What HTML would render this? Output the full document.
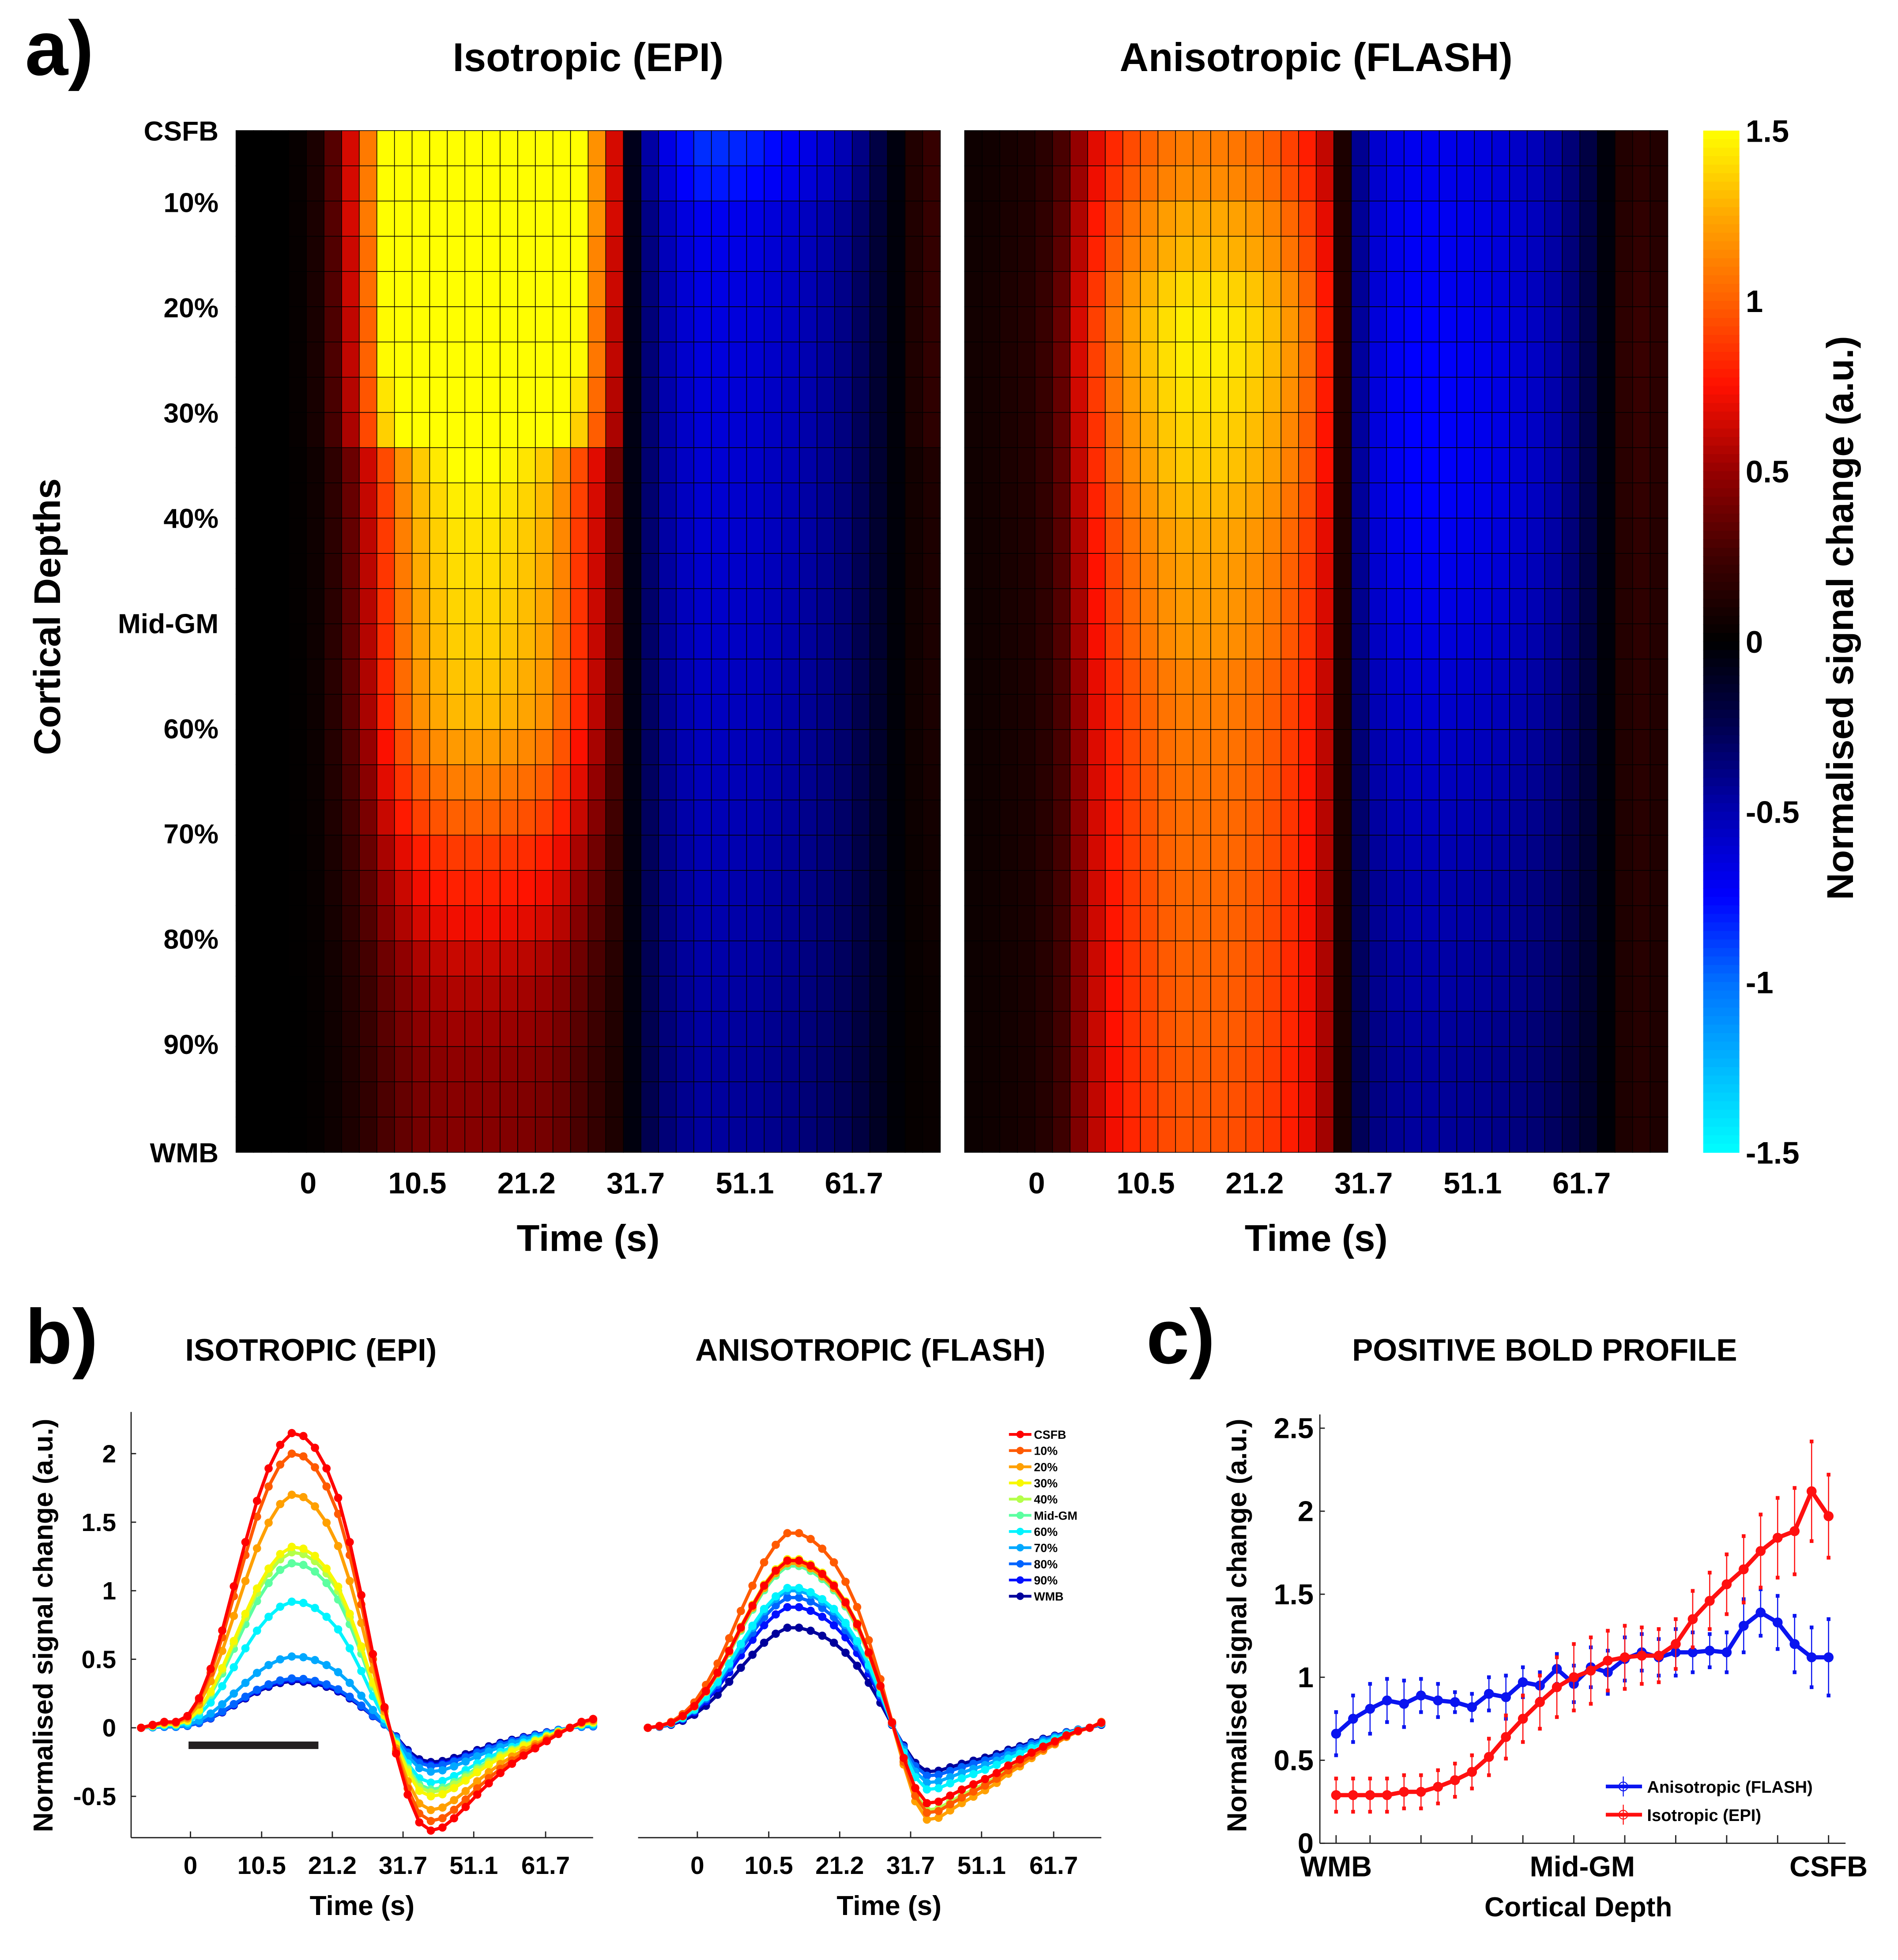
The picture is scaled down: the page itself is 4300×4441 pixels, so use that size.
<!DOCTYPE html>
<html><head><meta charset="utf-8"><style>
html,body{margin:0;padding:0;background:#fff;}
svg{display:block;}
text{font-family:"Liberation Sans",sans-serif;font-weight:bold;fill:#000;}
</style></head><body>
<svg id="fig" xmlns="http://www.w3.org/2000/svg" width="4300" height="4441" viewBox="0 0 1520 1570" preserveAspectRatio="none">
<rect x="0" y="0" width="1520" height="1570" fill="#fff"/>
<text x="20" y="60" font-size="62">a)</text>
<text x="471" y="57" font-size="32" text-anchor="middle">Isotropic (EPI)</text>
<text x="1054" y="57" font-size="32" text-anchor="middle">Anisotropic (FLASH)</text>
<text transform="translate(48,494) rotate(-90)" font-size="30" text-anchor="middle">Cortical Depths</text>
<text transform="translate(1484,495) rotate(-90)" font-size="30" text-anchor="middle">Normalised signal change (a.u.)</text>
<g id="heat"></g>
<text x="20" y="1092" font-size="62">b)</text>
<text x="249" y="1090" font-size="25" text-anchor="middle">ISOTROPIC (EPI)</text>
<text x="697" y="1090" font-size="25" text-anchor="middle">ANISOTROPIC (FLASH)</text>
<text transform="translate(42,1302) rotate(-90)" font-size="22" text-anchor="middle">Normalised signal change (a.u.)</text>
<text x="290" y="1534" font-size="22" text-anchor="middle">Time (s)</text>
<text x="712" y="1534" font-size="22" text-anchor="middle">Time (s)</text>
<rect x="151" y="1395" width="104" height="6" fill="#231f20"/>
<g id="tc"></g>
<text x="918" y="1092" font-size="62">c)</text>
<text x="1237" y="1090" font-size="25" text-anchor="middle">POSITIVE BOLD PROFILE</text>
<text transform="translate(998,1302) rotate(-90)" font-size="22" text-anchor="middle">Normalised signal change (a.u.)</text>
<text x="1264" y="1535" font-size="22" text-anchor="middle">Cortical Depth</text>
<g id="prof"></g>
</svg>
<script>
// ---------- Panel a data ----------
const depthLabels = ["CSFB","10%","20%","30%","40%","Mid-GM","60%","70%","80%","90%","WMB"];
const depthLabelY = [0,0.07,0.173,0.276,0.379,0.482,0.585,0.688,0.791,0.894,1.0];
const timeTickLabels = ["0","10.5","21.2","31.7","51.1","61.7"];
const heatTickIdx = [3.6,9.8,16.0,22.2,28.4,34.6];
const shapeIso = [0,0,0,0.01,0.04,0.12,0.25,0.42,0.62,0.78,0.9,0.96,1,1,1,0.98,0.95,0.9,0.8,0.62,0.45,0.25,-0.1,-0.55,-0.78,-0.92,-1,-1,-0.98,-0.95,-0.9,-0.85,-0.78,-0.7,-0.6,-0.45,-0.25,-0.05,0.05,0.08];
const posAmpIso = [2.6,2.6,2.6,2.5,2.5,2.4,2.4,2.3,2.2,1.5,1.45,1.42,1.4,1.38,1.36,1.33,1.3,1.2,1.1,1.0,0.88,0.8,0.72,0.62,0.56,0.52,0.48,0.46,0.45];
const negAmpIso = [0.85,0.8,0.7,0.68,0.66,0.65,0.64,0.63,0.62,0.61,0.6,0.6,0.59,0.58,0.57,0.56,0.55,0.54,0.53,0.52,0.51,0.5,0.49,0.48,0.47,0.46,0.45,0.45,0.45];
const shapeAni = [0.05,0.06,0.08,0.1,0.15,0.25,0.45,0.62,0.75,0.85,0.92,0.97,1,1,1,0.98,0.95,0.9,0.82,0.72,0.55,0.1,-0.6,-0.85,-0.95,-1,-1,-0.98,-0.95,-0.92,-0.88,-0.82,-0.75,-0.65,-0.5,-0.3,-0.05,0.12,0.15,0.12];
const posAmpAni = [1.1,1.15,1.25,1.3,1.4,1.45,1.45,1.42,1.38,1.35,1.3,1.25,1.22,1.2,1.18,1.12,1.1,1.08,1.06,1.05,1.04,1.03,1.02,1.01,1.0,1.0,0.98,0.97,0.96];
const negAmpAni = [0.7,0.7,0.72,0.72,0.72,0.74,0.75,0.75,0.75,0.75,0.74,0.72,0.7,0.68,0.65,0.62,0.6,0.58,0.56,0.54,0.52,0.5,0.5,0.48,0.48,0.46,0.45,0.45,0.45];
const cbTickLabels = ["1.5","1","0.5","0","-0.5","-1","-1.5"];
const cbTickVals = [1.5,1,0.5,0,-0.5,-1,-1.5];

// ---------- Panel b data ----------
const seriesNames = ["CSFB","10%","20%","30%","40%","Mid-GM","60%","70%","80%","90%","WMB"];
const seriesColors = ["#ff0000","#ff5a00","#ffa000","#f8f800","#b4ff4a","#5cffa0","#00f4ff","#00a8ff","#0064ff","#0010ff","#00009c"];
const shapeL = [0,0.01,0.02,0.02,0.04,0.1,0.2,0.33,0.48,0.63,0.77,0.88,0.96,1.0,0.99,0.95,0.88,0.78,0.63,0.45,0.25,0.07,-0.25,-0.65,-0.92,-1,-0.97,-0.88,-0.77,-0.65,-0.54,-0.44,-0.35,-0.27,-0.2,-0.13,-0.06,0.0,0.02,0.03];
const peaksL = [2.15,2.0,1.7,1.32,1.28,1.2,0.92,0.52,0.36,0.35,0.34];
const troughsL = [-0.75,-0.68,-0.6,-0.5,-0.47,-0.45,-0.4,-0.32,-0.28,-0.27,-0.25];
const shapeR = [0,0.01,0.03,0.07,0.13,0.22,0.33,0.46,0.6,0.73,0.85,0.94,1.0,1.0,0.97,0.92,0.85,0.75,0.62,0.45,0.25,0.03,-0.4,-0.8,-1,-0.98,-0.9,-0.82,-0.75,-0.68,-0.6,-0.5,-0.42,-0.33,-0.25,-0.18,-0.1,-0.04,0.0,0.03];
const peaksR = [1.22,1.42,1.2,1.23,1.2,1.18,1.02,1.0,0.95,0.88,0.73];
const troughsR = [-0.55,-0.62,-0.67,-0.55,-0.6,-0.62,-0.45,-0.4,-0.35,-0.35,-0.32];
const bYTickLabels = ["2","1.5","1","0.5","0","-0.5"];
const bYTickVals = [2,1.5,1,0.5,0,-0.5];
const bTickIdx = [4.26,10.4,16.5,22.6,28.7,34.9];

// ---------- Panel c data ----------
const profXLabels = ["WMB","Mid-GM","CSFB"];
const profXLabelIdx = [0,14.5,29];
const profYTickLabels = ["2.5","2","1.5","1","0.5","0"];
const profYTickVals = [2.5,2,1.5,1,0.5,0];
const isoProfile = [0.29,0.29,0.29,0.29,0.31,0.31,0.34,0.38,0.43,0.52,0.64,0.75,0.85,0.94,1.0,1.04,1.1,1.12,1.13,1.13,1.2,1.35,1.46,1.56,1.65,1.76,1.84,1.88,2.12,1.97];
const isoErr = [0.1,0.1,0.1,0.1,0.1,0.1,0.1,0.1,0.1,0.11,0.13,0.14,0.16,0.18,0.2,0.2,0.18,0.19,0.17,0.16,0.15,0.17,0.17,0.18,0.2,0.22,0.24,0.26,0.3,0.25];
const anisoProfile = [0.66,0.75,0.81,0.86,0.84,0.89,0.86,0.85,0.82,0.9,0.88,0.97,0.95,1.05,0.96,1.06,1.03,1.11,1.15,1.12,1.15,1.15,1.16,1.15,1.31,1.39,1.33,1.2,1.12,1.12];
const anisoErr = [0.13,0.14,0.15,0.13,0.14,0.1,0.1,0.06,0.08,0.1,0.13,0.09,0.08,0.09,0.11,0.12,0.13,0.13,0.11,0.11,0.14,0.12,0.1,0.12,0.16,0.14,0.16,0.17,0.18,0.23];
const profTickIdx = [0,2,5,8,11,14,17,20,23,26,29];

const NS = "http://www.w3.org/2000/svg";
function mk(tag, attrs, parent){ const e=document.createElementNS(NS,tag); for(const k in attrs) e.setAttribute(k,attrs[k]); parent.appendChild(e); return e; }
function lerp(a,b,t){return a+(b-a)*t;}
const cstops = [[-1.5,[0,255,255]],[-1.25,[0,184,255]],[-1.0,[0,112,255]],[-0.75,[0,0,255]],[-0.5,[0,0,176]],[-0.25,[0,0,80]],[0,[0,0,0]],[0.25,[64,0,0]],[0.5,[150,0,0]],[0.75,[255,16,0]],[1.0,[255,96,0]],[1.25,[255,168,0]],[1.5,[255,255,0]]];
function cmap(v){
  v=Math.max(-1.5,Math.min(1.5,v));
  for(let i=0;i<cstops.length-1;i++){
    const a=cstops[i],b=cstops[i+1];
    if(v<=b[0]){const t=(v-a[0])/(b[0]-a[0]);return "rgb("+[0,1,2].map(k=>Math.round(lerp(a[1][k],b[1][k],t))).join(",")+")";}
  }
  return "rgb(255,255,0)";
}

// ---------- Heatmaps ----------
const heat=document.getElementById('heat');
const HT=104.6, HB=923;
function heatmap(x0,x1,shape,pos,neg,name){
  const g=mk('g',{},heat);
  
  
  const nc=shape.length, nr=pos.length;
  const cw=(x1-x0)/nc, rh=(HB-HT)/nr;
  for(let r=0;r<nr;r++){
    for(let c=0;c<nc;c++){
      const s=shape[c];
      const v = s>=0 ? s*pos[r] : s*neg[r];
      const cell=mk('rect',{x:x0+c*cw,y:HT+r*rh,width:cw+0.05,height:rh+0.05,fill:cmap(v),stroke:"#000","stroke-width":0.55},g);
      
      
    }
  }
  depthLabels.forEach((l,i)=>{
    if(x0>300) return;
    const t=mk('text',{x:175,y:HT+depthLabelY[i]*(HB-HT)+8,"font-size":22,"text-anchor":"end"},heat);
    t.textContent=l;
    
    
  });
  timeTickLabels.forEach((l,i)=>{
    const t=mk('text',{x:x0+(heatTickIdx[i]+0.5)*cw,y:956,"font-size":24,"text-anchor":"middle"},heat);
    t.textContent=l;
    
    
  });
  const tt=mk('text',{x:(x0+x1)/2,y:1002,"font-size":30,"text-anchor":"middle"},heat);
  tt.textContent="Time (s)";
  
  
}
heatmap(189,753,shapeIso,posAmpIso,negAmpIso,'iso-heatmap');
heatmap(772.5,1335.6,shapeAni,posAmpAni,negAmpAni,'aniso-heatmap');
(function(){
  const g=mk('g',{},heat);
  
  
  const n=120, x=1364, w=29;
  for(let i=0;i<n;i++){
    const v=1.5-3*(i+0.5)/n;
    mk('rect',{x:x,y:HT+i*(HB-HT)/n,width:w,height:(HB-HT)/n+0.4,fill:cmap(v)},g);
  }
  cbTickLabels.forEach((l,i)=>{
    const y=HT+(1.5-cbTickVals[i])/3*(HB-HT);
    const t=mk('text',{x:1398,y:y+9,"font-size":25},g);
    t.textContent=l;
    
    
  });
})();

// ---------- Time courses ----------
const tc=document.getElementById('tc');
function yB(v){return 1384-109.8*v;}
function tcPlot(xa,xb,shape,peaks,troughs,axL,axR,yaxis,name){
  const g=mk('g',{},tc);
  
  
  const n=shape.length, dx=(xb-xa)/(n-1);
  mk('line',{x1:axL,y1:1472,x2:axR,y2:1472,stroke:"#222","stroke-width":1},g);
  bTickIdx.forEach((ti,i)=>{
    const x=xa+ti*dx;
    mk('line',{x1:x,y1:1472,x2:x,y2:1467,stroke:"#222","stroke-width":1},g);
    const t=mk('text',{x:x,y:1501,"font-size":20,"text-anchor":"middle"},g);
    t.textContent=timeTickLabels[i];
    
    
  });
  if(yaxis){
    mk('line',{x1:axL,y1:1131,x2:axL,y2:1472,stroke:"#222","stroke-width":1},g);
    bYTickVals.forEach((v,i)=>{
      mk('line',{x1:axL,y1:yB(v),x2:axL+4,y2:yB(v),stroke:"#222","stroke-width":1},g);
      const t=mk('text',{x:axL-12,y:yB(v)+7,"font-size":20,"text-anchor":"end"},g);
      t.textContent=bYTickLabels[i];
      
      
    });
  }
  for(let s=peaks.length-1;s>=0;s--){
    const pts=shape.map((v,i)=>[xa+i*dx, yB(v>=0? v*peaks[s] : -v*troughs[s])]);
    const pl=mk('polyline',{points:pts.map(p=>p.join(",")).join(" "),fill:"none",stroke:seriesColors[s],"stroke-width":2.6},g);
    
    
    pts.forEach(p=>{
      const c=mk('circle',{cx:p[0],cy:p[1],r:3.3,fill:seriesColors[s]},g);
      
      
    });
  }
}
tcPlot(113,475,shapeL,peaksL,troughsL,105,475,true,'iso-timecourse-plot');
tcPlot(518.8,882,shapeR,peaksR,troughsR,511,882,false,'aniso-timecourse-plot');
(function(){
  const g=mk('g',{},tc);
  
  
  seriesNames.forEach((nm,i)=>{
    const y=1149+i*12.96;
    mk('line',{x1:808,y1:y,x2:826,y2:y,stroke:seriesColors[i],"stroke-width":2.2},g);
    mk('circle',{cx:817,cy:y,r:3,fill:seriesColors[i]},g);
    const t=mk('text',{x:828,y:y+3.5,"font-size":9.5},g);
    t.textContent=nm;
    
    
  });
})();

// ---------- Profile ----------
const prof=document.getElementById('prof');
function yC(v){return 1476.5-133*v;}
function xC(i){return 1070+i*13.6;}
mk('line',{x1:1057,y1:1133,x2:1057,y2:1476.5,stroke:"#222","stroke-width":1},prof);
mk('line',{x1:1057,y1:1476.5,x2:1478,y2:1476.5,stroke:"#222","stroke-width":1},prof);
profYTickVals.forEach((v,i)=>{
  mk('line',{x1:1057,y1:yC(v),x2:1061,y2:yC(v),stroke:"#222","stroke-width":1},prof);
  const t=mk('text',{x:1052,y:yC(v)+8,"font-size":23,"text-anchor":"end"},prof);
  t.textContent=profYTickLabels[i];
  
  
});
profTickIdx.forEach(i=>{ mk('line',{x1:xC(i),y1:1476.5,x2:xC(i),y2:1470,stroke:"#222","stroke-width":1},prof); });
profXLabels.forEach((l,i)=>{
  const t=mk('text',{x:xC(profXLabelIdx[i]),y:1503,"font-size":23,"text-anchor":"middle"},prof);
  t.textContent=l;
  
  
});
function profSeries(vals,errs,color,name){
  const g=mk('g',{},prof);
  
  
  vals.forEach((v,i)=>{
    const x=xC(i);
    mk('line',{x1:x,y1:yC(v-errs[i]),x2:x,y2:yC(v+errs[i]),stroke:color,"stroke-width":0.9},g);
    mk('rect',{x:x-1.5,y:yC(v+errs[i])-1.5,width:3,height:3,fill:color},g);
    mk('rect',{x:x-1.5,y:yC(v-errs[i])-1.5,width:3,height:3,fill:color},g);
  });
  const pl=mk('polyline',{points:vals.map((v,i)=>xC(i)+","+yC(v)).join(" "),fill:"none",stroke:color,"stroke-width":3.4},g);
  
  
  vals.forEach((v,i)=>{
    const c=mk('circle',{cx:xC(i),cy:yC(v),r:4,fill:color},g);
    
    
  });
}
profSeries(anisoProfile,anisoErr,"#0a14f0",'aniso-profile');
profSeries(isoProfile,isoErr,"#ff1010",'iso-profile');
(function(){
  const g=mk('g',{},prof);
  
  
  [["Anisotropic (FLASH)","#0a14f0",1431],["Isotropic (EPI)","#ff1010",1453.6]].forEach(e=>{
    mk('line',{x1:1286,y1:e[2],x2:1315,y2:e[2],stroke:e[1],"stroke-width":3},g);
    mk('circle',{cx:1300,cy:e[2],r:3.5,fill:"none",stroke:e[1],"stroke-width":0.8},g);
    mk('line',{x1:1300,y1:e[2]-8,x2:1300,y2:e[2]+8,stroke:e[1],"stroke-width":0.8},g);
    const t=mk('text',{x:1319,y:e[2]+5,"font-size":13.5},g);
    t.textContent=e[0];
    
    
  });
})();
</script>
</body></html>
